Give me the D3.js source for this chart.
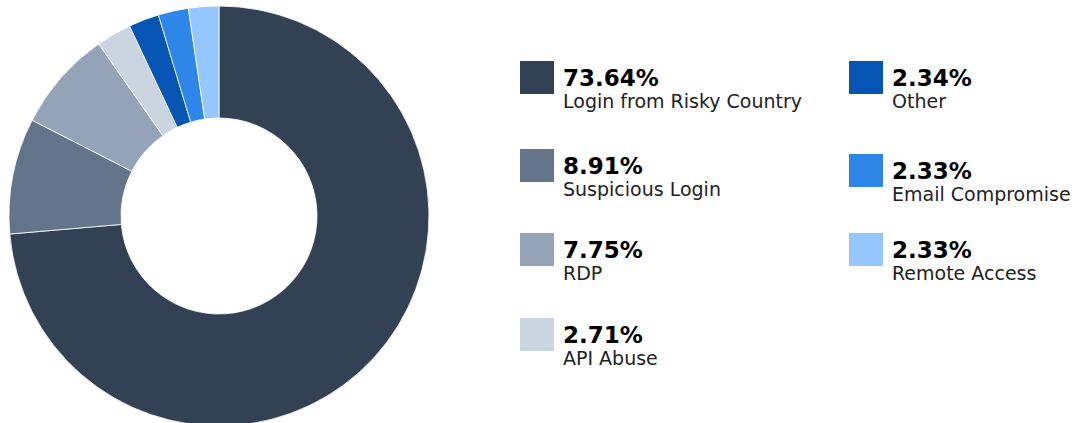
<!DOCTYPE html>
<html>
<head>
<meta charset="utf-8">
<script src="https://cdn.jsdelivr.net/npm/d3@7"></script>
<style>
  body { margin: 0; background: #fff; }
</style>
</head>
<body>
<div id="chart"></div>
<script>
// chart data
const categories = ["Login from Risky Country", "Suspicious Login", "RDP", "API Abuse", "Other", "Email Compromise", "Remote Access"];
const shares = [73.64, 8.91, 7.75, 2.71, 2.34, 2.33, 2.33];
const colors = ["#334155", "#64748b", "#94a3b8", "#cbd5e1", "#0654b3", "#2e86e8", "#95c6fd"];

const width = 1091;
const height = 423;

const svg = d3.select("#chart")
  .append("svg")
  .attr("width", width)
  .attr("height", height);

const data = categories.map((c, i) => ({ name: c, value: shares[i], color: colors[i] }));

// donut
const cx = 219, cy = 216;
const outerR = 210, innerR = 98;

const pie = d3.pie()
  .sort(null)
  .value(d => d.value);

const arc = d3.arc()
  .innerRadius(innerR)
  .outerRadius(outerR);

svg.append("g")
  .attr("transform", `translate(${cx}, ${cy})`)
  .selectAll("path")
  .data(pie(data))
  .enter()
  .append("path")
  .attr("d", arc)
  .attr("fill", d => d.data.color)
  .attr("stroke", "#fff")
  .attr("stroke-width", 0.8);

// legend: two columns, left holds first 4, right the rest
const colX = [520, 849];
const rowY = [[61, 149, 233, 318], [61, 154, 233]];

const legendItems = svg.append("g")
  .attr("class", "legend")
  .selectAll(".legend-item")
  .data(data)
  .enter()
  .append("g")
  .attr("class", "legend-item")
  .attr("transform", (d, i) => {
    const col = i < 4 ? 0 : 1;
    const row = i < 4 ? i : i - 4;
    return `translate(${colX[col]}, ${rowY[col][row]})`;
  });

legendItems.append("rect")
  .attr("width", 34)
  .attr("height", 33)
  .attr("fill", d => d.color);

legendItems.append("text")
  .attr("x", 43)
  .attr("y", 25)
  .style("font-family", "'DejaVu Sans', sans-serif")
  .style("font-weight", "bold")
  .style("font-size", "23px")
  .attr("fill", "#000")
  .text(d => d.value.toFixed(2) + "%");

legendItems.append("text")
  .attr("x", 43)
  .attr("y", 47)
  .style("font-family", "'DejaVu Sans', sans-serif")
  .style("font-size", "19px")
  .attr("fill", "#222")
  .text(d => d.name);
</script>
</body>
</html>
